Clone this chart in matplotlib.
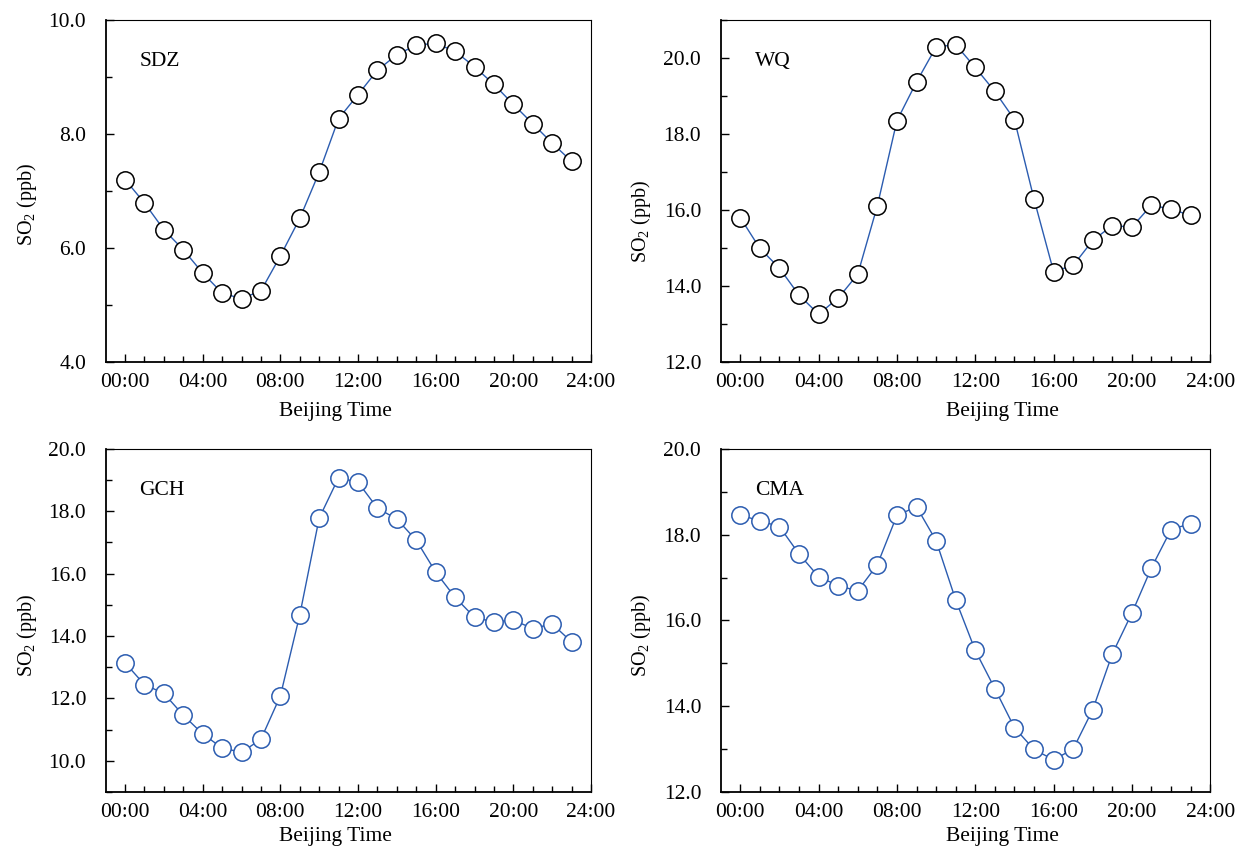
import matplotlib
matplotlib.use('Agg')
import matplotlib.pyplot as plt
from matplotlib.ticker import MultipleLocator, FixedLocator, FormatStrFormatter

plt.rcParams['font.family'] = ['Liberation Serif', 'DejaVu Serif']
plt.rcParams['mathtext.fontset'] = 'custom'
plt.rcParams['mathtext.rm'] = 'Liberation Serif'

hours = list(range(24))
hour_labels = ['00:00', '04:00', '08:00', '12:00', '16:00', '20:00', '24:00']

sdz = [7.20, 6.79, 6.32, 5.97, 5.56, 5.21, 5.11, 5.25, 5.86, 6.52, 7.33, 8.27,
       8.69, 9.12, 9.39, 9.56, 9.59, 9.45, 9.18, 8.87, 8.52, 8.18, 7.84, 7.52]
wq = [15.80, 14.99, 14.47, 13.76, 13.26, 13.68, 14.31, 16.11, 18.35, 19.37, 20.29, 20.35,
      19.75, 19.12, 18.38, 16.29, 14.38, 14.54, 15.20, 15.59, 15.55, 16.13, 16.02, 15.86]
gch = [13.14, 12.44, 12.16, 11.46, 10.86, 10.41, 10.27, 10.69, 12.08, 14.68, 17.78, 19.08,
       18.93, 18.10, 17.75, 17.07, 16.05, 15.24, 14.60, 14.45, 14.51, 14.24, 14.39, 13.81]
cma = [18.46, 18.32, 18.19, 17.55, 17.02, 16.81, 16.69, 17.30, 18.45, 18.65, 17.86, 16.48,
       15.30, 14.41, 13.50, 12.99, 12.75, 13.00, 13.92, 15.22, 16.17, 17.23, 18.12, 18.26]

line_blue = '#2b5cb0'

# name, values, ylim, marker edge colour, axes rect, xlabel (x, y), ylabel y (axes fraction)
panels = [
    ('SDZ', sdz, (4, 10), 'black', [0.0852, 0.5726, 0.3914, 0.4038], (0.473, -0.118), 0.46),
    ('WQ', wq, (12, 21), 'black', [0.5812, 0.5726, 0.3948, 0.4038], (0.576, -0.118), 0.41),
    ('GCH', gch, (9, 20), line_blue, [0.0852, 0.0650, 0.3914, 0.4050], (0.473, -0.102), 0.455),
    ('CMA', cma, (12, 20), line_blue, [0.5812, 0.0650, 0.3948, 0.4050], (0.576, -0.102), 0.455),
]

fig = plt.figure(figsize=(12.4, 8.47), dpi=100)

for name, vals, ylim, edge, rect, xl_pos, yl_y in panels:
    ax = fig.add_axes(rect)
    ax.plot(hours, vals, color=line_blue, lw=1.0, marker='o', ms=12.5,
            mfc='white', mec=edge, mew=1.1)
    ax.set_xlim(-1, 24)
    ax.set_ylim(*ylim)
    ax.xaxis.set_major_locator(FixedLocator([0, 4, 8, 12, 16, 20, 24]))
    ax.xaxis.set_minor_locator(FixedLocator(hours))
    ax.set_xticklabels(hour_labels)
    ax.yaxis.set_major_locator(MultipleLocator(2))
    ax.yaxis.set_minor_locator(MultipleLocator(1))
    ax.yaxis.set_major_formatter(FormatStrFormatter('%.1f'))
    ax.tick_params(which='both', direction='in', labelsize=15.5, top=False, right=False)
    ax.tick_params(which='major', length=6, width=1)
    ax.tick_params(which='minor', length=4.5, width=1)
    ax.tick_params(axis='x', pad=8)
    ax.tick_params(axis='y', pad=14)
    for s in ['left', 'bottom']:
        ax.spines[s].set_linewidth(1.3)
    for s in ['top', 'right']:
        ax.spines[s].set_linewidth(0.8)
    ax.set_xlabel('Beijing Time', fontsize=15.5)
    ax.set_ylabel('SO$_2$ (ppb)', fontsize=14.5)
    ax.xaxis.set_label_coords(*xl_pos)
    ax.yaxis.set_label_coords(-0.138, yl_y)
    ax.text(0.07, 0.878, name, transform=ax.transAxes, fontsize=15.5,
            va='center', ha='left')

fig.savefig('out.png', dpi=100)
